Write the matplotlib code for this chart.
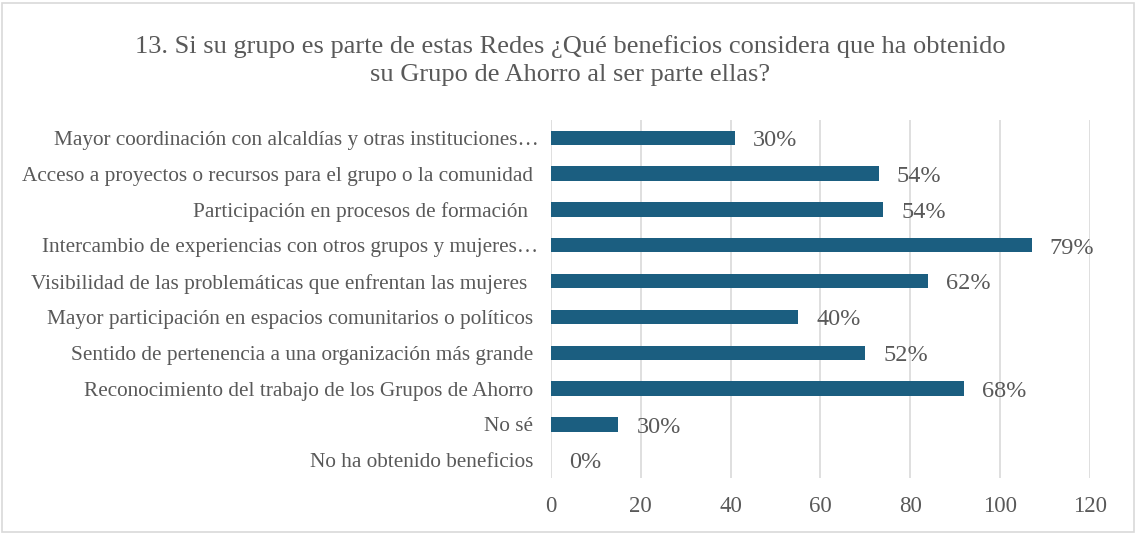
import matplotlib
matplotlib.use("Agg")
import matplotlib.pyplot as plt
from matplotlib.patches import Rectangle

categories = [
    "Mayor coordinación con alcaldías y otras instituciones…",
    "Acceso a proyectos o recursos para el grupo o la comunidad ",
    "Participación en procesos de formación  ",
    "Intercambio de experiencias con otros grupos y mujeres…",
    "Visibilidad de las problemáticas que enfrentan las mujeres  ",
    "Mayor participación en espacios comunitarios o políticos ",
    "Sentido de pertenencia a una organización más grande ",
    "Reconocimiento del trabajo de los Grupos de Ahorro ",
    "No sé ",
    "No ha obtenido beneficios ",
]
values = [41, 73, 74, 107, 84, 55, 70, 92, 15, 0]
pct_labels = ["30%", "54%", "54%", "79%", "62%", "40%", "52%", "68%", "30%", "0%"]
xticks = [0, 20, 40, 60, 80, 100, 120]
title = "13. Si su grupo es parte de estas Redes ¿Qué beneficios considera que ha obtenido\nsu Grupo de Ahorro al ser parte ellas?"

plt.rcParams['font.family'] = ['Liberation Serif', 'DejaVu Serif']
txt = "#595959"
bar_color = "#1b5e80"

fig = plt.figure(figsize=(11.36, 5.33), dpi=100)
fig.patches.append(Rectangle((0.002, 0.002), 0.996, 0.993, transform=fig.transFigure,
                             fill=False, edgecolor="#d9d9d9", linewidth=1.2))
ax = fig.add_axes([0.485, 0.103, 0.4745, 0.672])

n = len(categories)
ypos = list(range(n))
ax.barh(ypos, values, height=0.4, color=bar_color, zorder=3)
ax.set_ylim(n - 0.5, -0.5)
ax.set_xlim(0, 120)
ax.set_xticks(xticks)
ax.set_xticklabels([str(t) for t in xticks], fontsize=16.5, color=txt)
ax.set_yticks(ypos)
ax.set_yticklabels(categories, fontsize=15.3, color=txt)
ax.tick_params(axis='both', length=0)
ax.tick_params(axis='x', pad=13)
ax.tick_params(axis='y', pad=9)
ax.grid(axis='x', color="#d9d9d9", linewidth=1.2, zorder=0)
for s in ax.spines.values():
    s.set_visible(False)

for y, v, lab in zip(ypos, values, pct_labels):
    ax.annotate(lab, xy=(v, y), xytext=(13, -2), textcoords="offset points",
                ha="left", va="center", fontsize=17.5, color=txt)

fig.text(0.502, 0.886, title, ha="center", va="center", fontsize=19, color=txt,
         linespacing=1.38)

fig.savefig("out.png", dpi=100)
